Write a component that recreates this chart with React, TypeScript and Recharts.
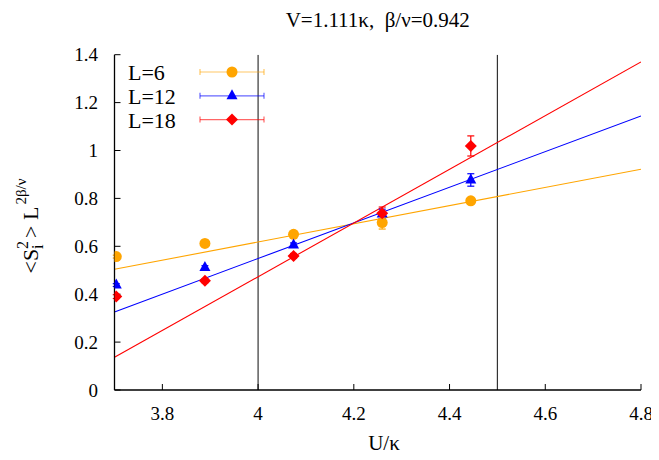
import React from 'react';
import { ComposedChart, XAxis, YAxis, Scatter, Line, ErrorBar, ReferenceLine, Legend } from 'recharts';

// ---- data ----
const xValues = [3.7037, 3.8889, 4.0741, 4.2593, 4.4444];
const l6Values = [0.557, 0.612, 0.65, 0.699, 0.79];
const l6Errors = [0.006, 0.006, 0.008, 0.027, 0.01];
const l12Values = [0.438, 0.512, 0.605, 0.735, 0.877];
const l12Errors = [0.006, 0.007, 0.009, 0.02, 0.026];
const l18Values = [0.39, 0.456, 0.56, 0.738, 1.019];
const l18Errors = [0.008, 0.008, 0.01, 0.026, 0.042];
const fitX = [3.7, 4.8];
const l6Fit = [0.504, 0.922];
const l12Fit = [0.326, 1.144];
const l18Fit = [0.1365, 1.37];
const xTicks = [3.8, 4, 4.2, 4.4, 4.6, 4.8];
const yTicks = [0, 0.2, 0.4, 0.6, 0.8, 1, 1.2, 1.4];
const markerLines = [4, 4.5];
const seriesNames = ['L=6', 'L=12', 'L=18'];
const seriesColors = ['#ffa500', '#0000ff', '#ff0000'];
const titleText = 'V=1.111κ, \u00A0β/ν=0.942';

const FONT = "'Liberation Serif', 'DejaVu Serif', 'Noto Serif', FreeSerif, 'Times New Roman', Times, serif";

type ShapeKind = 'circle' | 'triangle' | 'diamond';

const drawMarker = (kind: ShapeKind, cx: number, cy: number, color: string) => {
  if (kind === 'circle') return <circle cx={cx} cy={cy} r={5.5} fill={color} />;
  if (kind === 'triangle')
    return <polygon points={`${cx},${cy - 6.5} ${cx - 5.5},${cy + 3.5} ${cx + 5.5},${cy + 3.5}`} fill={color} />;
  return <polygon points={`${cx},${cy - 6} ${cx + 6},${cy} ${cx},${cy + 6} ${cx - 6},${cy}`} fill={color} />;
};

const build = (vals: number[], errs: number[]) => xValues.map((x, i) => ({ x, y: vals[i], err: errs[i] }));
const buildFit = (vals: number[]) => fitX.map((x, i) => ({ x, y: vals[i] }));

const series = [
  { name: seriesNames[0], color: seriesColors[0], kind: 'circle' as ShapeKind, data: build(l6Values, l6Errors), fit: buildFit(l6Fit) },
  { name: seriesNames[1], color: seriesColors[1], kind: 'triangle' as ShapeKind, data: build(l12Values, l12Errors), fit: buildFit(l12Fit) },
  { name: seriesNames[2], color: seriesColors[2], kind: 'diamond' as ShapeKind, data: build(l18Values, l18Errors), fit: buildFit(l18Fit) },
];

const W = 651;
const H = 452;

const LegendContent = () => (
  <svg width={300} height={80} style={{ overflow: 'visible', display: 'block' }}>
    {series.map((s, i) => {
      const cy = 10 + i * 23.8;
      return (
        <g key={s.name}>
          <text x={0} y={cy} dy="0.36em" style={{ fontFamily: FONT }} fontSize={22} fill="#000">
            {s.name}
          </text>
          <g stroke={s.color} strokeOpacity={0.6} strokeWidth={1.2}>
            <line x1={72} x2={136} y1={cy} y2={cy} />
            <line x1={72} x2={72} y1={cy - 3} y2={cy + 3} />
            <line x1={136} x2={136} y1={cy - 3} y2={cy + 3} />
          </g>
          {drawMarker(s.kind, 104, cy, s.color)}
        </g>
      );
    })}
  </svg>
);

export default function App() {
  const tickStyle = { fill: '#000', fontSize: 19, style: { fontFamily: FONT } };
  return (
    <div style={{ position: 'relative', width: W, height: H, fontFamily: FONT }}>
      <ComposedChart width={W} height={H} margin={{ top: 46.7, right: 18, bottom: 30, left: 46.5 }} style={{ fontFamily: FONT }}>
        <XAxis
          dataKey="x"
          type="number"
          domain={[3.7, 4.8]}
          ticks={xTicks}
          interval={0}
          height={40}
          tickSize={-6}
          tickMargin={23}
          allowDataOverflow
          axisLine={{ stroke: '#000', strokeWidth: 1.3 }}
          tickLine={{ stroke: '#000', strokeWidth: 1 }}
          tick={tickStyle}
        />
        <XAxis
          xAxisId="top"
          dataKey="x"
          type="number"
          orientation="top"
          domain={[3.7, 4.8]}
          ticks={xTicks}
          interval={0}
          height={0}
          tickSize={-6}
          allowDataOverflow
          axisLine={{ stroke: '#000', strokeWidth: 1.3 }}
          tickLine={{ stroke: '#000', strokeWidth: 1 }}
          tick={false}
        />
        <YAxis
          type="number"
          domain={[0, 1.4]}
          ticks={yTicks}
          interval={0}
          width={60}
          tickSize={-6}
          tickMargin={22.5}
          allowDataOverflow
          axisLine={{ stroke: '#000', strokeWidth: 1.3 }}
          tickLine={{ stroke: '#000', strokeWidth: 1 }}
          tick={tickStyle}
        />
        <YAxis
          yAxisId="right"
          type="number"
          orientation="right"
          domain={[0, 1.4]}
          ticks={yTicks}
          interval={0}
          width={0}
          tickSize={-6}
          allowDataOverflow
          axisLine={{ stroke: '#000', strokeWidth: 1.3 }}
          tickLine={{ stroke: '#000', strokeWidth: 1 }}
          tick={false}
        />
        {markerLines.map((v) => (
          <ReferenceLine key={v} x={v} stroke="#333" strokeWidth={1.2} ifOverflow="hidden" />
        ))}
        {series.map((s) => (
          <Line
            key={s.name + '-fit'}
            data={s.fit}
            dataKey="y"
            type="linear"
            stroke={s.color}
            strokeWidth={1.1}
            dot={false}
            activeDot={false}
            legendType="none"
            isAnimationActive={false}
          />
        ))}
        {series.map((s) => (
          <Scatter
            key={s.name}
            name={s.name}
            data={s.data}
            dataKey="y"
            fill={s.color}
            isAnimationActive={false}
            shape={(p: any) => drawMarker(s.kind, p.cx, p.cy, s.color)}
          >
            <ErrorBar dataKey="err" direction="y" width={3.5} stroke={s.color} strokeWidth={1.2} />
          </Scatter>
        ))}
        <Legend
          layout="horizontal"
          verticalAlign="middle"
          align="center"
          wrapperStyle={{ position: 'absolute', left: 120, top: 54.3, width: 300, height: 80 }}
          content={() => <LegendContent />}
        />
      </ComposedChart>
      <svg
        width={W}
        height={H}
        style={{ position: 'absolute', left: 0, top: 0, pointerEvents: 'none', fontFamily: FONT }}
      >
        <text x={369.7} y={19} textAnchor="middle" fontSize={21} fill="#000" style={{ fontFamily: FONT }}>
          {titleText}
        </text>
        <text x={376} y={442} textAnchor="middle" fontSize={21} fill="#000" style={{ fontFamily: FONT }}>
          U/κ
        </text>
        <text
          x={30}
          y={218}
          textAnchor="middle"
          fontSize={22}
          fill="#000"
          style={{ fontFamily: FONT }}
          transform="rotate(-90, 30, 218)"
        >
          {'<S'}
          <tspan fontSize={16} dy={5}>i</tspan>
          <tspan fontSize={16} dx={-4.5} dy={-15}>2</tspan>
          <tspan dy={10} dx={3}>{'> L'}</tspan>
          <tspan fontSize={15} dx={2} dy={-12}>2β/ν</tspan>
        </text>
      </svg>
    </div>
  );
}
